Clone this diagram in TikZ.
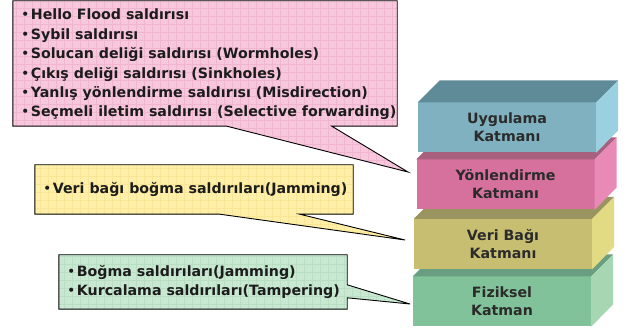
\documentclass[tikz,border=0pt]{standalone}
\usepackage{fontspec}
\setmainfont{DejaVu Sans}
\usetikzlibrary{calc,positioning,backgrounds}

\definecolor{uygfront}{HTML}{7FB1C0}
\definecolor{uygtop}{HTML}{5F8B99}
\definecolor{uygside}{HTML}{9BD0E0}
\definecolor{yonfront}{HTML}{D6719E}
\definecolor{yontop}{HTML}{A8607F}
\definecolor{yonside}{HTML}{E98AB6}
\definecolor{verfront}{HTML}{C8BE72}
\definecolor{vertop}{HTML}{9A9460}
\definecolor{verside}{HTML}{E3DA84}
\definecolor{fizfront}{HTML}{82C29A}
\definecolor{fiztop}{HTML}{6A9E80}
\definecolor{fizside}{HTML}{A6D6B2}
\definecolor{pinkfill}{HTML}{F7C8DD}
\definecolor{pinkgrid}{HTML}{F0B6D0}
\definecolor{yelfill}{HTML}{FFEFA8}
\definecolor{yelgrid}{HTML}{F8E596}
\definecolor{grnfill}{HTML}{C8E8D2}
\definecolor{grngrid}{HTML}{B9DEC4}
\definecolor{layertext}{HTML}{2B2B2B}
\definecolor{calltext}{HTML}{1C1C1C}

\newcommand{\blt}{{\mdseries•}\hspace{1.5pt}}

\tikzset{
  layer/.style={minimum width=178pt, minimum height=50pt, inner sep=0pt, align=center,
    font=\fontsize{14.2}{18}\selectfont\bfseries, text=layertext},
  callbox/.style={inner sep=0pt},
  calltext/.style={inner sep=0pt, anchor=west, align=left,
    font=\fontsize{14.2}{19.4}\selectfont\bfseries, text=calltext},
  callout/.style={draw=black, line width=0.9pt, line join=miter},
  gridded/.style={path picture={\draw[#1, line width=0.4pt]
    (path picture bounding box.south west) grid[step=8pt] (path picture bounding box.north east);}}
}

\begin{document}
\begin{tikzpicture}[x=1pt,y=-1pt]
    \useasboundingbox (0,0) rectangle (627,331);
    % layer stack, bottom first
    \node[layer, fill=fizfront] (fiz) at (502,301.5) {Fiziksel\\Katman};
    \fill[fiztop] (fiz.north west) -- ++(22,-22) -- ($(fiz.north east)+(22,-22)$) -- (fiz.north east) -- cycle;
    \fill[fizside] (fiz.north east) -- ++(22,-22) -- ++(0,50) -- (fiz.south east) -- cycle;
    \node[layer, fill=verfront] (ver) at (503,244) {Veri Bağı\\Katmanı};
    \fill[vertop] (ver.north west) -- ++(22,-22) -- ($(ver.north east)+(22,-22)$) -- (ver.north east) -- cycle;
    \fill[verside] (ver.north east) -- ++(22,-22) -- ++(0,50) -- (ver.south east) -- cycle;
    \node[layer, fill=yonfront] (yon) at (505.5,184.5) {Yönlendirme\\Katmanı};
    \fill[yontop] (yon.north west) -- ++(22,-22) -- ($(yon.north east)+(22,-22)$) -- (yon.north east) -- cycle;
    \fill[yonside] (yon.north east) -- ++(22,-22) -- ++(0,50) -- (yon.south east) -- cycle;
    \node[layer, fill=uygfront] (uyg) at (507,127.5) {Uygulama\\Katmanı};
    \fill[uygtop] (uyg.north west) -- ++(22,-22) -- ($(uyg.north east)+(22,-22)$) -- (uyg.north east) -- cycle;
    \fill[uygside] (uyg.north east) -- ++(22,-22) -- ++(0,50) -- (uyg.south east) -- cycle;
    % callouts
    \coordinate (agtip) at (408,172);
    \coordinate (bagtip) at (405,240);
    \coordinate (fiztip) at (410,304);
    \node[callbox, minimum width=384pt, minimum height=125pt] (ag) at (205,63.5) {};
    \node[calltext] (agtext) at ($(ag.west)+(8,1)$)
      {\blt Hello Flood saldırısı\\\blt Sybil saldırısı\\\blt Solucan deliği saldırısı (Wormholes)\\
       \blt Çıkış deliği saldırısı (Sinkholes)\\\blt Yanlış yönlendirme saldırısı (Misdirection)\\
       \blt Seçmeli iletim saldırısı (Selective forwarding)};
    \node[callbox, minimum width=318pt, minimum height=49pt] (bag) at (194,189.5) {};
    \node[calltext] (bagtext) at ($(bag.west)+(8,0)$) {\blt Veri bağı boğma saldırıları(Jamming)};
    \node[callbox, minimum width=288pt, minimum height=54pt] (kat) at (203,282) {};
    \node[calltext] (kattext) at ($(kat.west)+(8,0)$)
      {\blt Boğma saldırıları(Jamming)\\\blt Kurcalama saldırıları(Tampering)};
    \begin{scope}[on background layer]
      \draw[callout, fill=pinkfill, gridded=pinkgrid] (ag.north west) -- (ag.north east) -- (ag.south east)
        -- ($(ag.south west)+(319,0)$) -- (agtip) -- ($(ag.south west)+(214,0)$) -- (ag.south west) -- cycle;
      \draw[callout, fill=yelfill, gridded=yelgrid] (bag.north west) -- (bag.north east) -- (bag.south east)
        -- ($(bag.south west)+(265,0)$) -- (bagtip) -- ($(bag.south west)+(185,0)$) -- (bag.south west) -- cycle;
      \draw[callout, fill=grnfill, gridded=grngrid] (kat.north west) -- (kat.north east)
        -- ($(kat.north east)+(0,30)$) -- (fiztip) -- ($(kat.north east)+(0,43)$)
        -- (kat.south east) -- (kat.south west) -- cycle;
    \end{scope}
\end{tikzpicture}
\end{document}
